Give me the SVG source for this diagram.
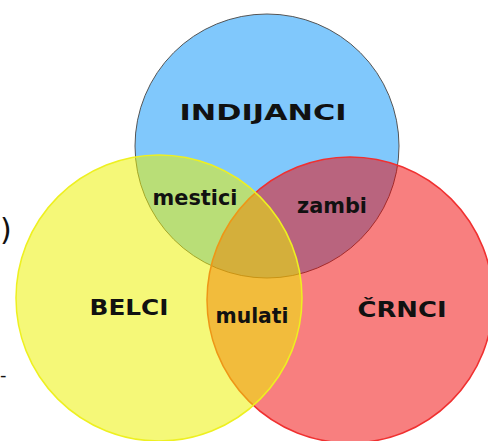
<svg xmlns="http://www.w3.org/2000/svg" width="488" height="441" viewBox="0 0 488 441">
<style>
.lbl{font-family:"DejaVu Sans","Liberation Sans",sans-serif;font-weight:bold;font-size:22px;fill:#111;text-anchor:middle}
.edge{font-family:"DejaVu Sans","Liberation Sans",sans-serif;fill:#111}
</style>
<rect width="488" height="441" fill="#ffffff"/>
<g id="indijanci">
<circle cx="267" cy="146" r="132" fill="#80c8fc" stroke="#555555" stroke-width="1"/>
</g>
<g id="crnci">
<circle cx="350" cy="300" r="143" fill="#f20000" fill-opacity="0.5" stroke="#f03030" stroke-width="1.5"/>
</g>
<g id="belci">
<circle cx="159" cy="298" r="143" fill="#edf100" fill-opacity="0.53" stroke="#eef020" stroke-width="1.5"/>
</g>
<g id="labels">
<text class="lbl" x="263" y="120" textLength="167" lengthAdjust="spacingAndGlyphs">INDIJANCI</text>
<text class="lbl" x="195" y="205" textLength="85" lengthAdjust="spacingAndGlyphs">mestici</text>
<text class="lbl" x="332" y="213" textLength="70" lengthAdjust="spacingAndGlyphs">zambi</text>
<text class="lbl" x="129" y="315" textLength="79" lengthAdjust="spacingAndGlyphs">BELCI</text>
<text class="lbl" x="252" y="323" textLength="73" lengthAdjust="spacingAndGlyphs">mulati</text>
<text class="lbl" x="402" y="317" textLength="89" lengthAdjust="spacingAndGlyphs">ČRNCI</text>
</g>
<text class="edge" x="0" y="240" font-size="30">)</text>
<text class="edge" x="0" y="381" font-size="18">-</text>
</svg>
